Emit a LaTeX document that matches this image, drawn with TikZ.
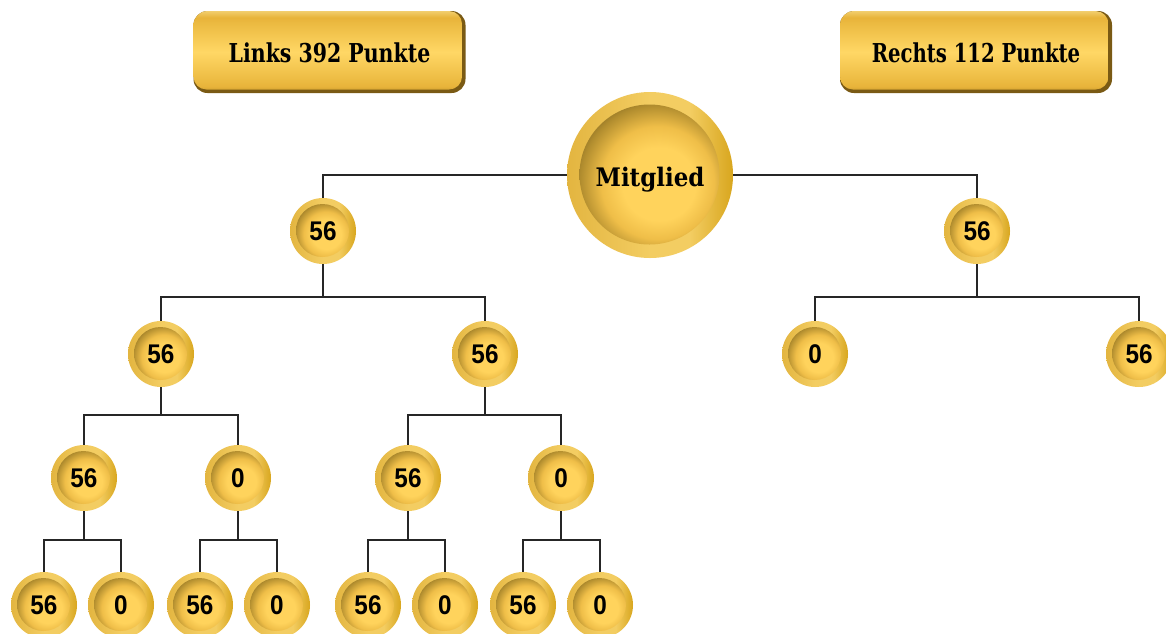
\documentclass[tikz,border=0pt]{standalone}
\usepackage{fontspec}
\setmainfont{DejaVu Serif Condensed}
\newfontfamily\numfont{Liberation Sans}
\newcommand{\coinnum}[1]{\raisebox{-9.5pt}[0pt][0pt]{\scalebox{.9}[1]{#1}}}
\newcommand{\barlbl}[2]{\raisebox{-10.5pt}[0pt][0pt]{\scalebox{#1}[1]{#2}}}
\definecolor{linecol}{HTML}{262626}
\definecolor{gA}{HTML}{FFD35C}
\definecolor{gB}{HTML}{EFBE48}
\definecolor{gC}{HTML}{B08C2E}
\definecolor{gD}{HTML}{6B561C}
\definecolor{gE}{HTML}{5A4817}
\definecolor{rA}{HTML}{E3B540}
\definecolor{rB}{HTML}{F3CD62}
\definecolor{rC}{HTML}{D8A61E}
\definecolor{bA}{HTML}{F2CE6E}
\definecolor{bB}{HTML}{E8B43A}
\definecolor{bC}{HTML}{FFD765}
\definecolor{bD}{HTML}{7A5A14}
\definecolor{bE}{HTML}{C0922A}
\pgfdeclareradialshading{innergold}{\pgfpoint{3.5bp}{-3.5bp}}{
  color(0bp)=(gA);
  color(11bp)=(gA);
  color(17bp)=(gB);
  color(23bp)=(gC);
  color(28bp)=(gD);
  color(31bp)=(gE);
  color(50bp)=(gE)
}
\pgfdeclarehorizontalshading{ringgold}{100bp}{
  color(0bp)=(rA);
  color(25bp)=(rA);
  color(50bp)=(rB);
  color(62bp)=(rB);
  color(75bp)=(rC);
  color(100bp)=(rC)
}
\pgfdeclareverticalshading{barshade}{100bp}{
  color(0bp)=(bE);
  color(25bp)=(bE);
  color(29bp)=(bB);
  color(50bp)=(bC);
  color(71bp)=(bB);
  color(75bp)=(bA);
  color(100bp)=(bA)
}
\tikzset{
  x=1pt, y=-1pt,
  link/.style={draw=linecol, line width=1.9pt},
  coin/.style={circle, minimum size=66pt, inner sep=0pt, shading=ringgold,
    font=\numfont\bfseries\fontsize{27}{27}\selectfont, text=black,
    path picture={\shade[shading=innergold] ([xshift=-0.5pt,yshift=0.5pt]path picture bounding box.center) circle (26.5pt);}},
  bigcoin/.style={circle, minimum size=166pt, inner sep=0pt, shading=ringgold,
    font=\bfseries\fontsize{25.5}{25.5}\selectfont, text=black,
    path picture={\shade[shading=innergold] ([xshift=-0.5pt,yshift=0.5pt]path picture bounding box.center) circle (70pt);}},
  bar/.style={rounded corners=14pt, minimum width=272pt, minimum height=82pt, inner sep=0pt,
    fill=bD, font=\bfseries\fontsize{26}{26}\selectfont, text=black,
    path picture={\shade[shading=barshade, rounded corners=13pt]
      ([shift={(0pt,0pt)}]path picture bounding box.north west) rectangle
      ([shift={(-3.5pt,3.5pt)}]path picture bounding box.south east);}}
}
\begin{document}
\begin{tikzpicture}
\clip (0,0) rectangle (1166,633);
\fill[white] (0,0) rectangle (1166,633);
\node[bar] (links) at (329.5,52) {\barlbl{.875}{Links 392 Punkte}};
\node[bar] (rechts) at (976,52) {\barlbl{.84}{Rechts 112 Punkte}};
\node[bigcoin] (m) at (650,175) {\raisebox{-11.5pt}[0pt][0pt]{Mitglied}};
\node[coin] (l) at (323,231) {\coinnum{56}};
\node[coin] (r) at (977,231) {\coinnum{56}};
\node[coin] (ll) at (161,354) {\coinnum{56}};
\node[coin] (lr) at (485,354) {\coinnum{56}};
\node[coin] (rl) at (815,354) {\coinnum{0}};
\node[coin] (rr) at (1139,354) {\coinnum{56}};
\node[coin] (a1) at (84,478) {\coinnum{56}};
\node[coin] (a2) at (238,478) {\coinnum{0}};
\node[coin] (a3) at (408,478) {\coinnum{56}};
\node[coin] (a4) at (561,478) {\coinnum{0}};
\node[coin] (b1) at (44,605) {\coinnum{56}};
\node[coin] (b2) at (121,605) {\coinnum{0}};
\node[coin] (b3) at (200,605) {\coinnum{56}};
\node[coin] (b4) at (277,605) {\coinnum{0}};
\node[coin] (b5) at (368,605) {\coinnum{56}};
\node[coin] (b6) at (445,605) {\coinnum{0}};
\node[coin] (b7) at (523,605) {\coinnum{56}};
\node[coin] (b8) at (600,605) {\coinnum{0}};
\coordinate (busl) at (323,297);
\coordinate (busr) at (977,297);
\coordinate (bus1) at (161,415);
\coordinate (bus2) at (485,415);
\coordinate (bus3) at (84,540);
\coordinate (bus4) at (238,540);
\coordinate (bus5) at (408,540);
\coordinate (bus6) at (561,540);
\draw[link] (l.north) |- (m.west);
\draw[link] (r.north) |- (m.east);
\draw[link] (l.south) -- (busl);
\draw[link] (r.south) -- (busr);
\draw[link] (ll.north) |- (busl) -| (lr.north);
\draw[link] (rl.north) |- (busr) -| (rr.north);
\draw[link] (ll.south) -- (bus1);
\draw[link] (lr.south) -- (bus2);
\draw[link] (a1.north) |- (bus1) -| (a2.north);
\draw[link] (a3.north) |- (bus2) -| (a4.north);
\draw[link] (a1.south) -- (bus3);
\draw[link] (a2.south) -- (bus4);
\draw[link] (a3.south) -- (bus5);
\draw[link] (a4.south) -- (bus6);
\draw[link] (b1.north) |- (bus3) -| (b2.north);
\draw[link] (b3.north) |- (bus4) -| (b4.north);
\draw[link] (b5.north) |- (bus5) -| (b6.north);
\draw[link] (b7.north) |- (bus6) -| (b8.north);
\end{tikzpicture}
\end{document}
